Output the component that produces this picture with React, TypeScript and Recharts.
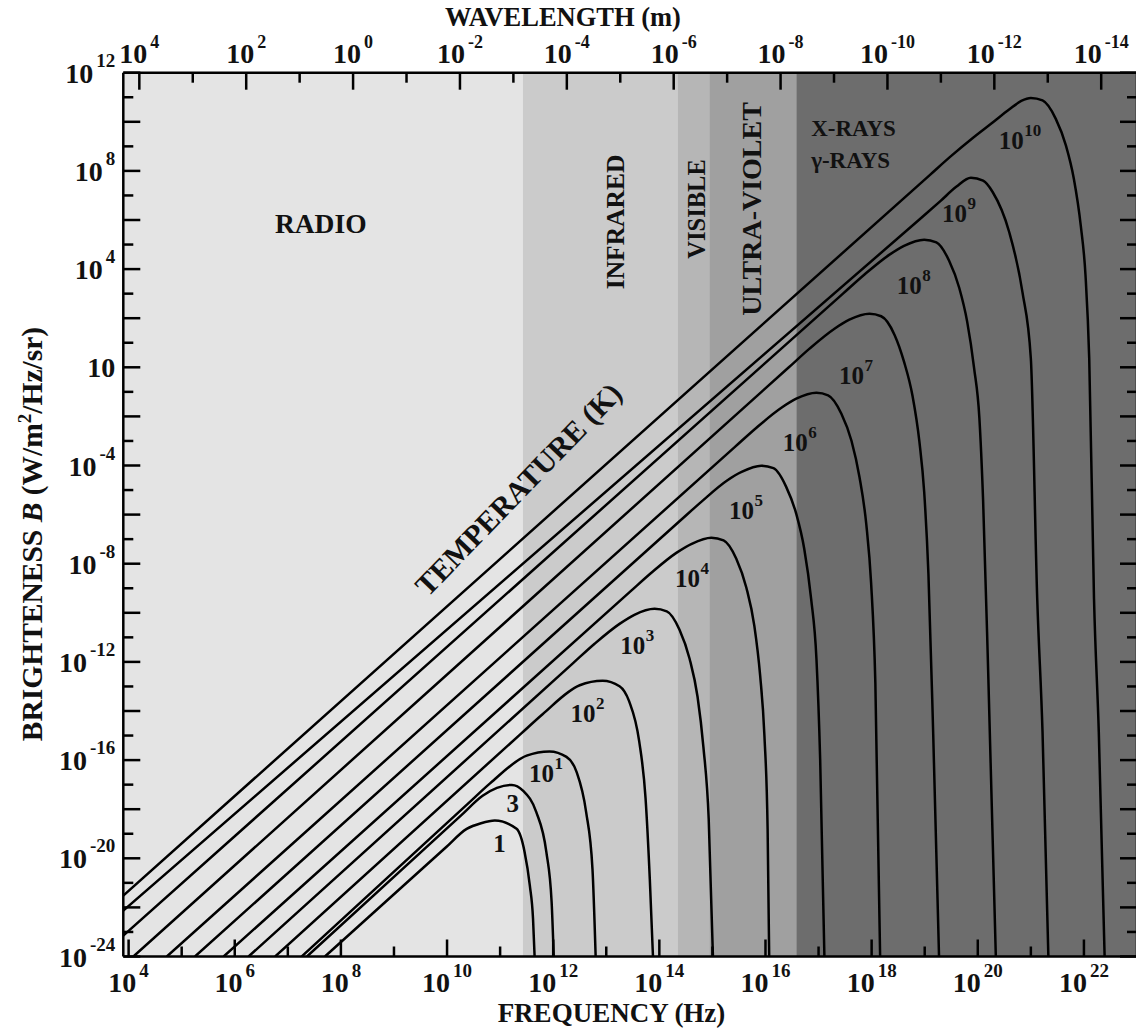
import React from 'react';
import { LineChart, Line, XAxis, YAxis, ReferenceArea, ReferenceDot } from 'recharts';

const FONT = '"Liberation Serif", "Times New Roman", Times, serif';

// Curves: [log10 frequency (Hz), log10 brightness (W/m^2/Hz/sr)]
const curve1 = [[7.7, -24], [9.97, -19.57], [10.37, -18.8], [10.64, -18.57], [10.9, -18.46], [11.31, -18.8], [11.46, -19.73], [11.56, -21.11], [11.62, -22.46], [11.65, -24]];
const curve3 = [[7.36, -24], [10.27, -18.24], [10.67, -17.45], [10.94, -17.13], [11.22, -17.01], [11.43, -17.24], [11.68, -18.11], [11.87, -19.73], [11.97, -21.77], [12.01, -24]];
const curve1e1 = [[7.26, -24], [10.41, -17.74], [10.81, -16.95], [11.5, -15.82], [11.93, -15.65], [12.25, -15.87], [12.44, -16.48], [12.62, -18.11], [12.74, -20.43], [12.8, -24]];
const curve1e2 = [[6.76, -24], [11.4, -14.91], [11.8, -14.13], [12.5, -12.95], [12.93, -12.77], [13.25, -12.99], [13.43, -13.6], [13.62, -15.23], [13.74, -17.55], [13.82, -20.83], [13.88, -24]];
const curve1e3 = [[6.26, -24], [12.38, -12.04], [12.78, -11.26], [13.25, -10.45], [13.53, -10.08], [13.91, -9.84], [14.14, -9.94], [14.38, -10.69], [14.57, -11.87], [14.72, -13.42], [14.83, -15.46], [14.93, -18.39], [15.01, -24]];
const curve1e4 = [[5.79, -24], [13.45, -9.14], [13.85, -8.37], [14.32, -7.56], [14.61, -7.19], [14.98, -6.94], [15.21, -7.05], [15.45, -7.8], [15.64, -8.98], [15.79, -10.53], [15.9, -12.57], [15.98, -15.01], [16.04, -18.8], [16.07, -24]];
const curve1e5 = [[5.25, -24], [14.39, -6.25], [14.79, -5.48], [15.27, -4.62], [15.55, -4.26], [15.92, -4.01], [16.15, -4.11], [16.39, -4.87], [16.58, -5.97], [16.73, -7.39], [16.86, -9.43], [16.96, -11.87], [17.03, -15.95], [17.11, -24]];
const curve1e6 = [[4.72, -24], [15.43, -3.23], [15.83, -2.46], [16.3, -1.65], [16.58, -1.28], [16.96, -1.04], [17.18, -1.14], [17.43, -1.89], [17.62, -2.99], [17.77, -4.46], [17.9, -6.41], [17.99, -8.78], [18.07, -12.85], [18.16, -24]];
const curve1e7 = [[4.09, -24], [16.43, -0.02], [16.83, 0.76], [17.3, 1.57], [17.58, 1.94], [17.96, 2.18], [18.18, 2.08], [18.43, 1.33], [18.61, 0.23], [18.77, -1.16], [18.9, -3.03], [18.99, -5.07], [19.07, -8.41], [19.16, -14.93], [19.27, -24]];
const curve1e8 = [[3.9, -23.15], [17.46, 3.0], [17.86, 3.77], [18.33, 4.58], [18.61, 4.95], [18.99, 5.2], [19.22, 5.09], [19.46, 4.34], [19.65, 3.24], [19.8, 1.86], [19.93, -0.02], [20.03, -2.06], [20.1, -5.4], [20.2, -12.73], [20.34, -24]];
const curve1e9 = [[3.9, -22.13], [18.9, 6.02], [19.3, 6.78], [19.6, 7.36], [19.87, 7.72], [20.1, 7.6], [20.28, 7.14], [20.59, 5.52], [20.84, 3.08], [21.0, 0.35], [21.12, -9.43], [21.22, -14.85], [21.33, -24]];
const curve1e10 = [[3.9, -21.52], [19.1, 7.84], [19.5, 8.61], [19.9, 9.33], [20.28, 9.97], [20.59, 10.5], [20.82, 10.85], [21.0, 10.97], [21.22, 10.87], [21.47, 10.12], [21.66, 9.04], [21.81, 7.68], [21.94, 5.78], [22.03, 3.74], [22.1, 0.35], [22.19, -9.43], [22.28, -14.85], [22.39, -24]];

const curves = [curve1, curve3, curve1e1, curve1e2, curve1e3, curve1e4, curve1e5, curve1e6, curve1e7, curve1e8, curve1e9, curve1e10];

// Curve labels: base text, superscript, anchor [log f, log B]
const curveLabelBase = ['1', '3', '10', '10', '10', '10', '10', '10', '10', '10', '10', '10'];
const curveLabelSup = ['', '', '1', '2', '3', '4', '5', '6', '7', '8', '9', '10'];
const curveLabelF = [10.99, 11.24, 11.78, 12.56, 13.5, 14.53, 15.55, 16.56, 17.62, 18.71, 19.56, 20.63];
const curveLabelB = [-19.38, -17.75, -16.53, -14.08, -11.31, -8.58, -5.81, -3.04, -0.31, 3.35, 6.29, 9.26];

// Spectral bands (log10 frequency edges)
const bandNames = ['RADIO', 'INFRARED', 'VISIBLE', 'ULTRA-VIOLET', 'X-RAYS'];
const bandFrom = [3.9, 11.43, 14.34, 14.94, 16.58];
const bandTo = [11.43, 14.34, 14.94, 16.58, 23];
const bandFill = ['#e4e4e4', '#cbcbcb', '#b6b6b6', '#a0a0a0', '#6d6d6d'];

// Axis ticks (exponents of ten)
const freqTicks = [4, 5, 6, 7, 8, 9, 10, 11, 12, 13, 14, 15, 16, 17, 18, 19, 20, 21, 22];
const lambdaTicks = [4, 3, 2, 1, 0, -1, -2, -3, -4, -5, -6, -7, -8, -9, -10, -11, -12, -13, -14];
const brightTicks = [12, 11, 10, 9, 8, 7, 6, 5, 4, 3, 2, 1, 0, -1, -2, -3, -4, -5, -6, -7, -8, -9, -10, -11, -12, -13, -14, -15, -16, -17, -18, -19, -20, -21, -22, -23, -24];

// Band / annotation labels: text, anchor [log f, log B], rotation, size, text anchor
const bandLabelText = ['RADIO', 'INFRARED', 'VISIBLE', 'ULTRA-VIOLET', 'X-RAYS', 'γ-RAYS', 'TEMPERATURE (K)'];
const bandLabelF = [7.62, 13.16, 14.7, 15.74, 16.86, 16.86, 11.34];
const bandLabelB = [5.88, 5.92, 6.45, 6.45, 9.75, 8.44, -4.96];
const bandLabelRot = [0, -90, -90, -90, 0, 0, -46];
const bandLabelSize = [27.5, 25.5, 24.5, 28, 23, 23, 30];
const bandLabelAnchor = ['middle', 'middle', 'middle', 'middle', 'start', 'start', 'middle'];

const STROKE = 2.5;

function BottomTick(props: any) {
  const { x, y, payload } = props;
  const v = payload.value;
  const major = v % 2 === 0;
  return (
    <g>
      <line x1={x} x2={x} y1={y} y2={y - (major ? 17 : 10)} stroke="#000" strokeWidth={STROKE} />
      {major && (
        <text x={x} y={y + 35} textAnchor="middle" fontFamily={FONT} fontWeight="bold" fontSize={28} fill="#111">
          10<tspan dx={3} dy={-15} fontSize={19}>{v}</tspan>
        </text>
      )}
    </g>
  );
}

function TopTick(props: any) {
  const { x, y, payload } = props;
  const v = payload.value;
  const major = v % 2 === 0;
  return (
    <g>
      <line x1={x} x2={x} y1={y} y2={y + (major ? 17 : 10)} stroke="#000" strokeWidth={STROKE} />
      {major && (
        <text x={x} y={y - 10} textAnchor="middle" fontFamily={FONT} fontWeight="bold" fontSize={28} fill="#111">
          10<tspan dx={3} dy={-15} fontSize={18}>{v}</tspan>
        </text>
      )}
    </g>
  );
}

function LeftTick(props: any) {
  const { x, y, payload } = props;
  const v = payload.value;
  const major = v % 2 === 0;
  const labelled = v % 4 === 0;
  return (
    <g>
      <line x1={x} x2={x + (major ? 17 : 10)} y1={y} y2={y} stroke="#000" strokeWidth={STROKE} />
      {labelled && (
        <text x={x - 8} y={y + 10} textAnchor="end" fontFamily={FONT} fontWeight="bold" fontSize={28} fill="#111">
          10{v !== 0 && <tspan dx={3} dy={-16} fontSize={19}>{v}</tspan>}
        </text>
      )}
    </g>
  );
}

function RightTick(props: any) {
  const { x, y, payload } = props;
  const major = payload.value % 2 === 0;
  return <line x1={x} x2={x - (major ? 17 : 10)} y1={y} y2={y} stroke="#000" strokeWidth={STROKE} />;
}

function FreqTitle(props: any) {
  const vb = props.viewBox || {};
  return (
    <text x={vb.x + vb.width * 0.4816} y={vb.y + 65} textAnchor="middle" fontFamily={FONT} fontWeight="bold" fontSize={27} fill="#111">
      FREQUENCY (Hz)
    </text>
  );
}

function LambdaTitle(props: any) {
  const vb = props.viewBox || {};
  return (
    <text x={vb.x + vb.width * 0.4338} y={vb.y + vb.height - 47} textAnchor="middle" fontFamily={FONT} fontWeight="bold" fontSize={26.5} fill="#111">
      WAVELENGTH (m)
    </text>
  );
}

function BrightTitle(props: any) {
  const vb = props.viewBox || {};
  const cx = vb.x - 21;
  const cy = vb.y + vb.height * 0.522;
  return (
    <text x={cx} y={cy} transform={`rotate(-90 ${cx} ${cy})`} textAnchor="middle" fontFamily={FONT} fontWeight="bold" fontSize={29.5} fill="#111">
      BRIGHTENESS <tspan fontStyle="italic">B</tspan> (W/m<tspan dy={-11} fontSize={19}>2</tspan><tspan dy={11}>/Hz/sr)</tspan>
    </text>
  );
}

function CurveLabel(props: any) {
  const { cx, cy, base, sup } = props;
  return (
    <g>
      <text x={cx} y={cy + 9} textAnchor="middle" fontFamily={FONT} fontWeight="bold" fontSize={25} fill="#111">
        {base}
      </text>
      {sup && (
        <text x={cx + 13} y={cy - 4} textAnchor="start" fontFamily={FONT} fontWeight="bold" fontSize={17} fill="#111">
          {sup}
        </text>
      )}
    </g>
  );
}

function BandText(props: any) {
  const { cx, cy, text, rotate, size, anchor } = props;
  return (
    <text
      x={cx}
      y={cy}
      dy="0.35em"
      transform={rotate ? `rotate(${rotate} ${cx} ${cy})` : undefined}
      textAnchor={anchor || 'middle'}
      fontFamily={FONT}
      fontWeight="bold"
      fontSize={size}
      fill="#111"
    >
      {text}
    </text>
  );
}

// helper rows so the wavelength (top) and mirrored right axes are registered; never drawn
const axisRows = lambdaTicks.map((w, i) => ({ w, b: brightTicks[i] }));

export default function App() {
  return (
    <div style={{ position: 'absolute', left: 0, top: 0, width: 1136, height: 1028, overflow: 'hidden', background: '#fff' }}>
      <LineChart width={1150} height={1028} margin={{ top: 42.7, left: 63.3, right: 3, bottom: 41.5 }}>
        <XAxis
          xAxisId={0}
          type="number"
          dataKey="f"
          domain={[3.9, 23]}
          allowDataOverflow
          ticks={freqTicks}
          interval={0}
          tickSize={0}
          tickMargin={0}
          tickLine={false}
          tick={<BottomTick />}
          axisLine={{ stroke: '#000', strokeWidth: STROKE }}
          height={30}
          label={(p: any) => <FreqTitle {...p} />}
        />
        <XAxis
          xAxisId="top"
          orientation="top"
          type="number"
          dataKey="w"
          domain={[-14.67, 4.3]}
          reversed
          allowDataOverflow
          includeHidden
          ticks={lambdaTicks}
          interval={0}
          tickSize={0}
          tickMargin={0}
          tickLine={false}
          tick={<TopTick />}
          axisLine={{ stroke: '#000', strokeWidth: STROKE }}
          height={30}
          label={(p: any) => <LambdaTitle {...p} />}
        />
        <YAxis
          yAxisId={0}
          type="number"
          domain={[-24, 12]}
          allowDataOverflow
          ticks={brightTicks}
          interval={0}
          tickSize={0}
          tickMargin={0}
          tickLine={false}
          tick={<LeftTick />}
          axisLine={{ stroke: '#000', strokeWidth: STROKE }}
          width={60}
          label={(p: any) => <BrightTitle {...p} />}
        />
        <YAxis
          yAxisId="right"
          orientation="right"
          type="number"
          domain={[-24, 12]}
          allowDataOverflow
          includeHidden
          ticks={brightTicks}
          interval={0}
          tickSize={0}
          tickMargin={0}
          tickLine={false}
          tick={<RightTick />}
          axisLine={{ stroke: '#000', strokeWidth: STROKE }}
          width={10}
        />
        {bandNames.map((n, i) => (
          <ReferenceArea
            key={n}
            xAxisId={0}
            yAxisId={0}
            x1={bandFrom[i]}
            x2={bandTo[i]}
            y1={-24}
            y2={12}
            fill={bandFill[i]}
            fillOpacity={1}
            stroke="none"
            ifOverflow="hidden"
          />
        ))}
        <Line
          xAxisId="top"
          yAxisId="right"
          data={axisRows}
          dataKey="b"
          hide
          stroke="none"
          dot={false}
          activeDot={false}
          legendType="none"
          isAnimationActive={false}
        />
        {curves.map((c, i) => (
          <Line
            key={i}
            xAxisId={0}
            yAxisId={0}
            data={c.map(([f, b]) => ({ f, b }))}
            dataKey="b"
            type="monotone"
            stroke="#000"
            strokeWidth={STROKE}
            dot={false}
            activeDot={false}
            isAnimationActive={false}
          />
        ))}
        {curveLabelBase.map((b, i) => (
          <ReferenceDot
            key={'cl' + i}
            xAxisId={0}
            yAxisId={0}
            x={curveLabelF[i]}
            y={curveLabelB[i]}
            r={0}
            shape={(p: any) => <CurveLabel cx={p.cx} cy={p.cy} base={b} sup={curveLabelSup[i]} />}
          />
        ))}
        {bandLabelText.map((t, i) => (
          <ReferenceDot
            key={'bl' + i}
            xAxisId={0}
            yAxisId={0}
            x={bandLabelF[i]}
            y={bandLabelB[i]}
            r={0}
            shape={(p: any) => (
              <BandText cx={p.cx} cy={p.cy} text={t} rotate={bandLabelRot[i]} size={bandLabelSize[i]} anchor={bandLabelAnchor[i]} />
            )}
          />
        ))}
      </LineChart>
    </div>
  );
}
